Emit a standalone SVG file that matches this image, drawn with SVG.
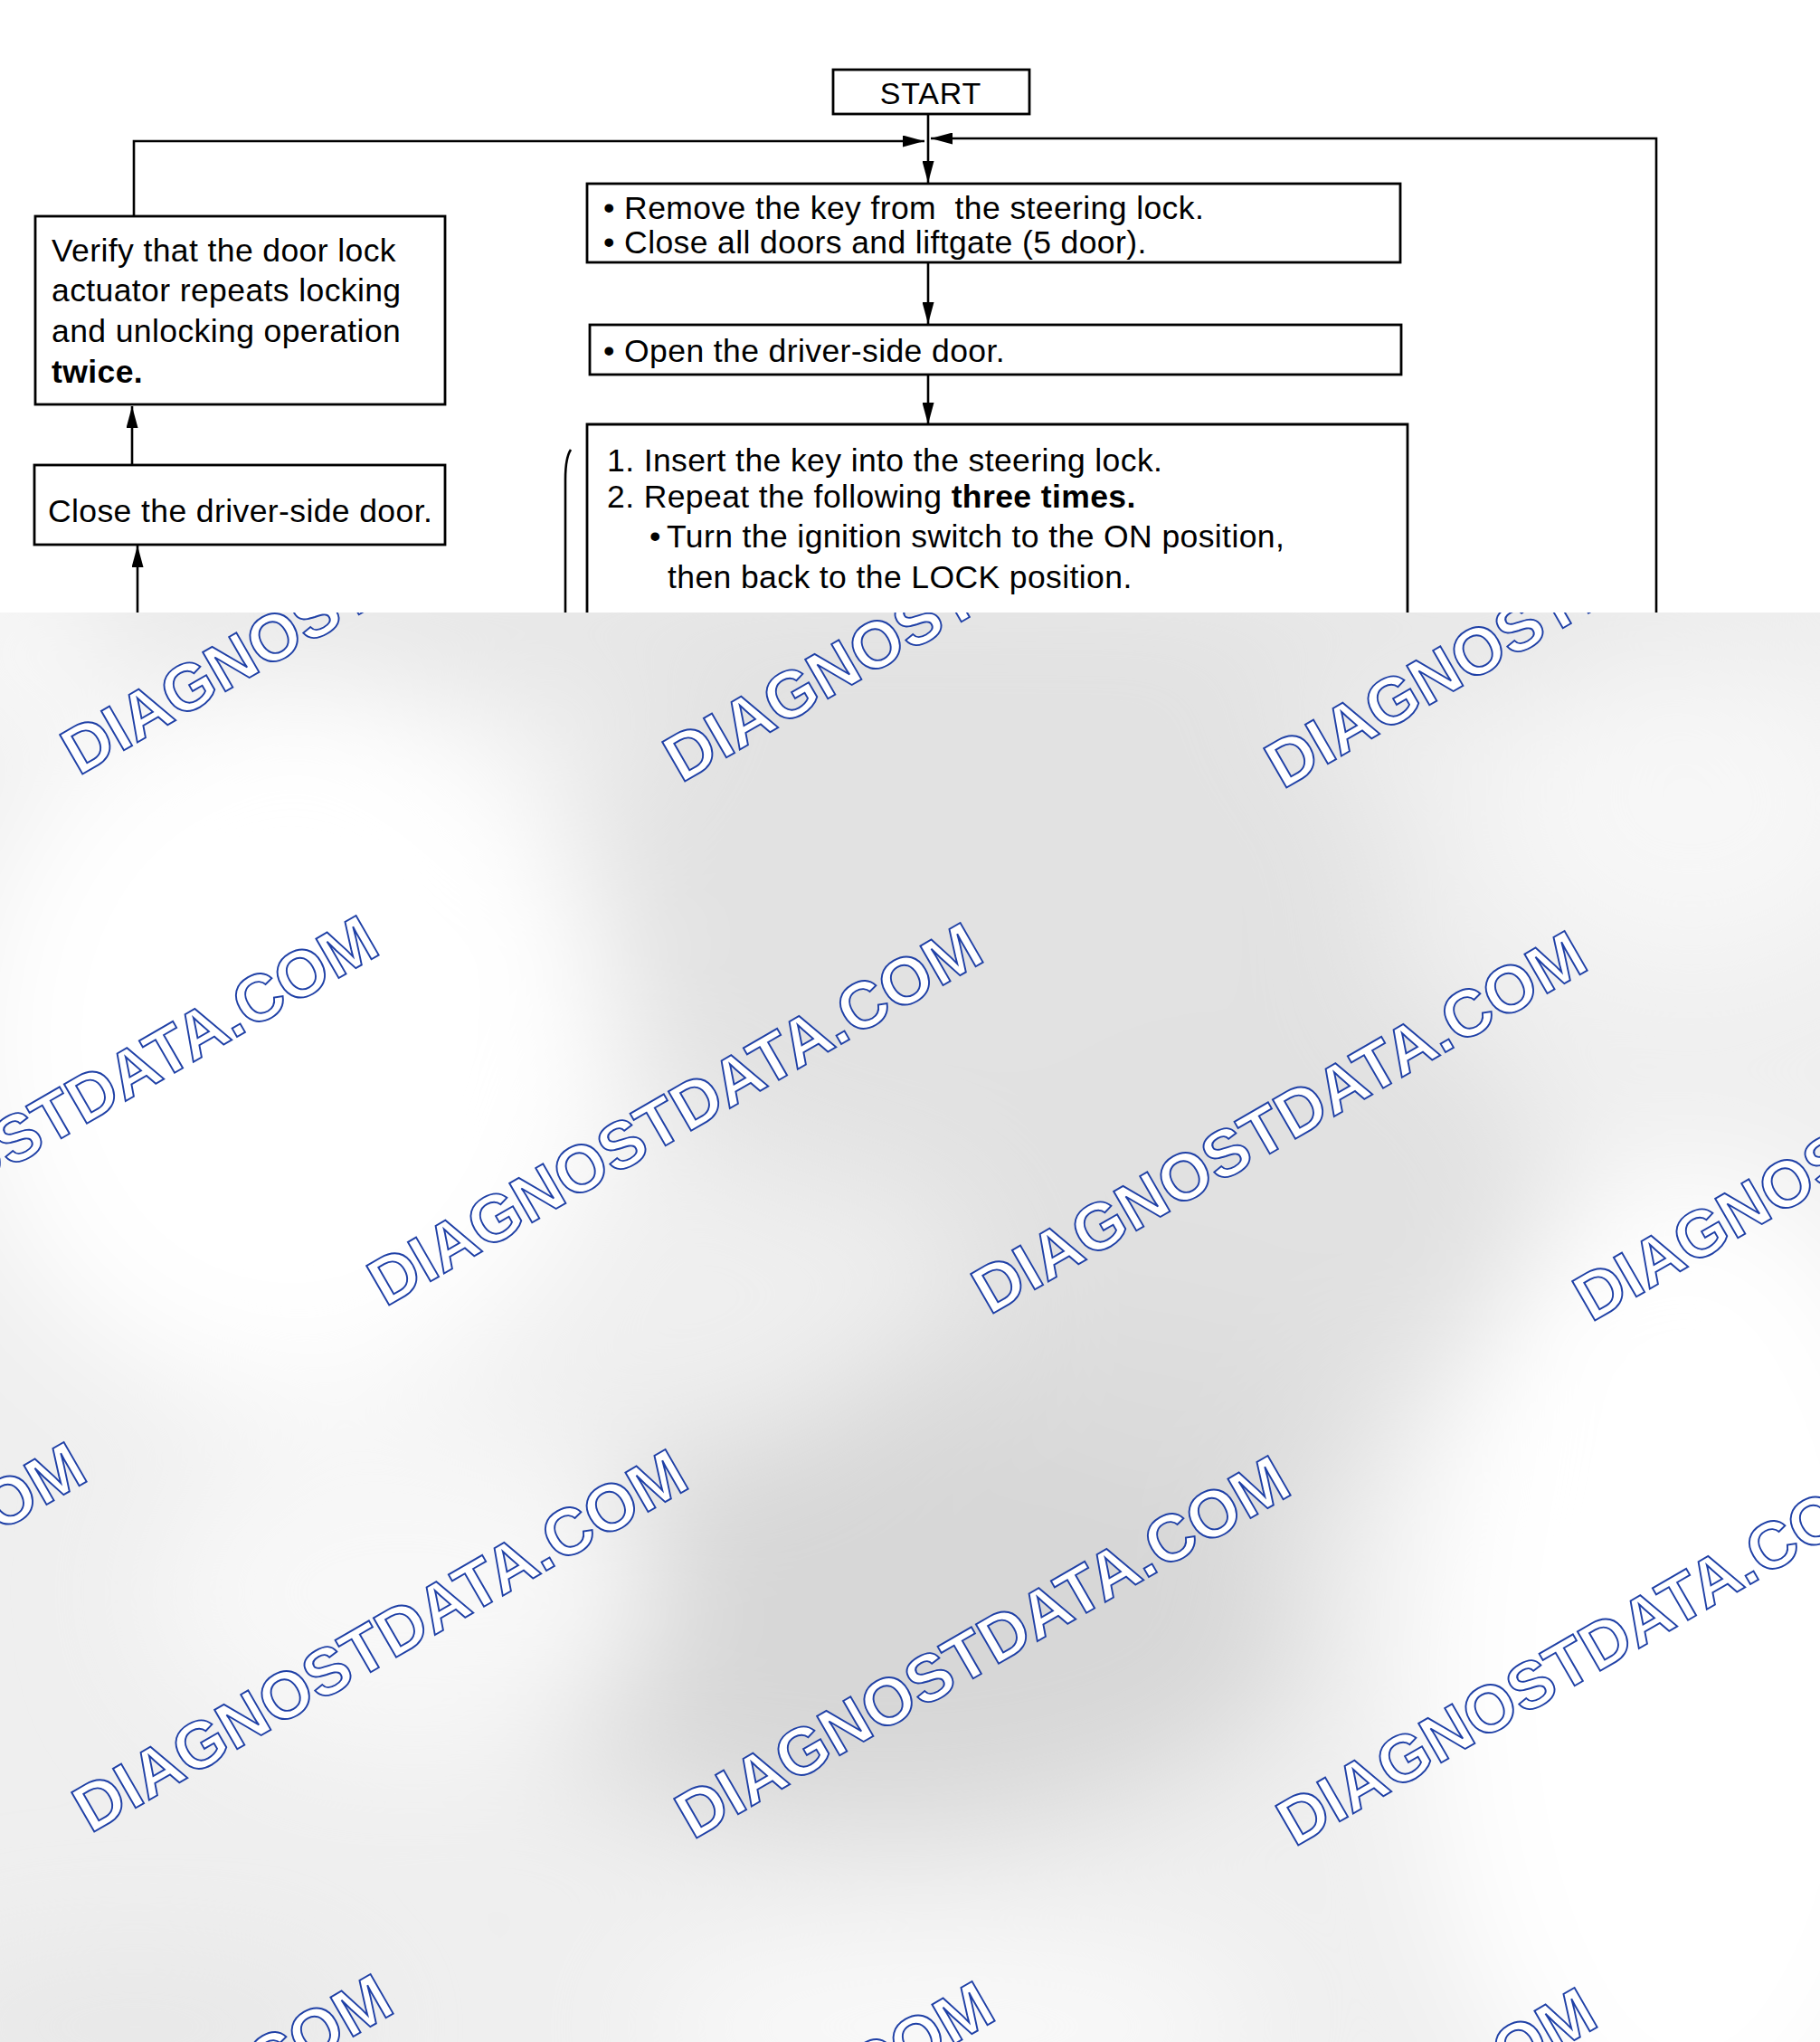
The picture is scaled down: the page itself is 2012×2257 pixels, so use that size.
<svg xmlns="http://www.w3.org/2000/svg" width="2012" height="2257" viewBox="0 0 2012 2257">
<style>
.t{font-family:"Liberation Sans",Arial,Helvetica,sans-serif;font-size:35.5px;letter-spacing:0.4px;fill:#000}
.s{font-size:34px;letter-spacing:0.8px}
.b{font-weight:bold}
.box{fill:#fff;stroke:#000;stroke-width:2.8}
.ln{fill:none;stroke:#000;stroke-width:2.6}
.wm{font-family:"Liberation Sans",Arial,Helvetica,sans-serif;font-size:73px;font-weight:bold;fill:#fff;stroke:#1f40a6;stroke-width:1.9}
</style>
<defs>
<marker id="ah" markerUnits="userSpaceOnUse" markerWidth="24" markerHeight="13" refX="24" refY="6.5" orient="auto">
<path d="M0,0 L24,6.5 L0,13 z" fill="#000"/>
</marker>
<clipPath id="ov"><rect x="0" y="677" width="2012" height="1580"/></clipPath>
<filter id="bl" filterUnits="userSpaceOnUse" x="-300" y="400" width="2600" height="2200"><feGaussianBlur stdDeviation="70"/></filter>
</defs>
<rect width="2012" height="2257" fill="#fff"/>
<g id="connectors">
<line class="ln" x1="1026" y1="126" x2="1026" y2="202" marker-end="url(#ah)"/>
<line class="ln" x1="1026" y1="290" x2="1026" y2="358" marker-end="url(#ah)"/>
<line class="ln" x1="1026" y1="414" x2="1026" y2="469" marker-end="url(#ah)"/>
<path class="ln" d="M148,239 V156 H1022" marker-end="url(#ah)"/>
<path class="ln" d="M1831,690 V153 H1029" marker-end="url(#ah)"/>
<line class="ln" x1="146" y1="514" x2="146" y2="449" marker-end="url(#ah)"/>
<line class="ln" x1="152" y1="690" x2="152" y2="603" marker-end="url(#ah)"/>
<path class="ln" d="M631,497 Q625,506 625,530 V690"/>
</g>
<g id="start">
<rect class="box" x="921" y="77" width="217" height="49"/>
<text class="t s" x="1029" y="115" text-anchor="middle">START</text>
</g>
<g id="remove-key">
<rect class="box" x="649" y="203" width="899" height="87"/>
<text class="t" x="667" y="242" xml:space="preserve">• Remove the key from  the steering lock.</text>
<text class="t" x="667" y="280">• Close all doors and liftgate (5 door).</text>
</g>
<g id="open-door">
<rect class="box" x="652" y="359" width="897" height="55"/>
<text class="t" x="667" y="400">• Open the driver-side door.</text>
</g>
<g id="insert-key">
<path class="box" d="M649,700 V469 H1556 V700"/>
<text class="t" x="671" y="521">1. Insert the key into the steering lock.</text>
<text class="t" x="671" y="561">2. Repeat the following <tspan class="b">three times.</tspan></text>
<text class="t" x="718" y="605">•</text>
<text class="t" x="737" y="605">Turn the ignition switch to the ON position,</text>
<text class="t" x="738" y="650">then back to the LOCK position.</text>
</g>
<g id="verify">
<rect class="box" x="39" y="239" width="453" height="208"/>
<text class="t" x="57" y="289">Verify that the door lock</text>
<text class="t" x="57" y="333">actuator repeats locking</text>
<text class="t" x="57" y="378">and unlocking operation</text>
<text class="t b" x="57" y="423">twice.</text>
</g>
<g id="close-door">
<rect class="box" x="38" y="514" width="454" height="88"/>
<text class="t" x="53" y="577">Close the driver-side door.</text>
</g>
<g id="watermark-overlay" clip-path="url(#ov)">
<rect x="0" y="677" width="2012" height="1580" fill="#efefef"/>
<g filter="url(#bl)">
<ellipse cx="1000" cy="690" rx="1050" ry="60" fill="#e3e3e3"/>
<ellipse cx="1080" cy="1000" rx="460" ry="330" fill="#e2e2e2"/>
<ellipse cx="1380" cy="1330" rx="330" ry="260" fill="#e1e1e1"/>
<ellipse cx="1200" cy="1600" rx="300" ry="150" fill="#dcdcdc"/>
<ellipse cx="980" cy="1800" rx="460" ry="220" fill="#d7d7d7"/>
<ellipse cx="150" cy="2240" rx="260" ry="80" fill="#e7e7e7"/>
<ellipse cx="320" cy="1150" rx="360" ry="400" fill="#ffffff"/>
<ellipse cx="450" cy="1760" rx="280" ry="180" fill="#f8f8f8"/>
<ellipse cx="1870" cy="1850" rx="300" ry="560" fill="#ffffff"/>
<ellipse cx="1870" cy="890" rx="220" ry="180" fill="#f7f7f7"/>
<ellipse cx="1050" cy="2240" rx="350" ry="90" fill="#fafafa"/>
<ellipse cx="20" cy="720" rx="90" ry="60" fill="#ffffff"/>
</g>
<g id="watermarks">
<text class="wm" transform="translate(87,858) rotate(-30)">DIAGNOSTDATA.COM</text>
<text class="wm" transform="translate(753,866) rotate(-30)">DIAGNOSTDATA.COM</text>
<text class="wm" transform="translate(1418,873) rotate(-30)">DIAGNOSTDATA.COM</text>
<text class="wm" transform="translate(-242,1437) rotate(-30)">DIAGNOSTDATA.COM</text>
<text class="wm" transform="translate(426,1445) rotate(-30)">DIAGNOSTDATA.COM</text>
<text class="wm" transform="translate(1094,1454) rotate(-30)">DIAGNOSTDATA.COM</text>
<text class="wm" transform="translate(1759,1462) rotate(-30)">DIAGNOSTDATA.COM</text>
<text class="wm" transform="translate(-565,2019) rotate(-30)">DIAGNOSTDATA.COM</text>
<text class="wm" transform="translate(100,2027) rotate(-30)">DIAGNOSTDATA.COM</text>
<text class="wm" transform="translate(766,2034) rotate(-30)">DIAGNOSTDATA.COM</text>
<text class="wm" transform="translate(1431,2042) rotate(-30)">DIAGNOSTDATA.COM</text>
<text class="wm" transform="translate(-226,2607) rotate(-30)">DIAGNOSTDATA.COM</text>
<text class="wm" transform="translate(439,2615) rotate(-30)">DIAGNOSTDATA.COM</text>
<text class="wm" transform="translate(1105,2622) rotate(-30)">DIAGNOSTDATA.COM</text>
</g>
</g>
</svg>
